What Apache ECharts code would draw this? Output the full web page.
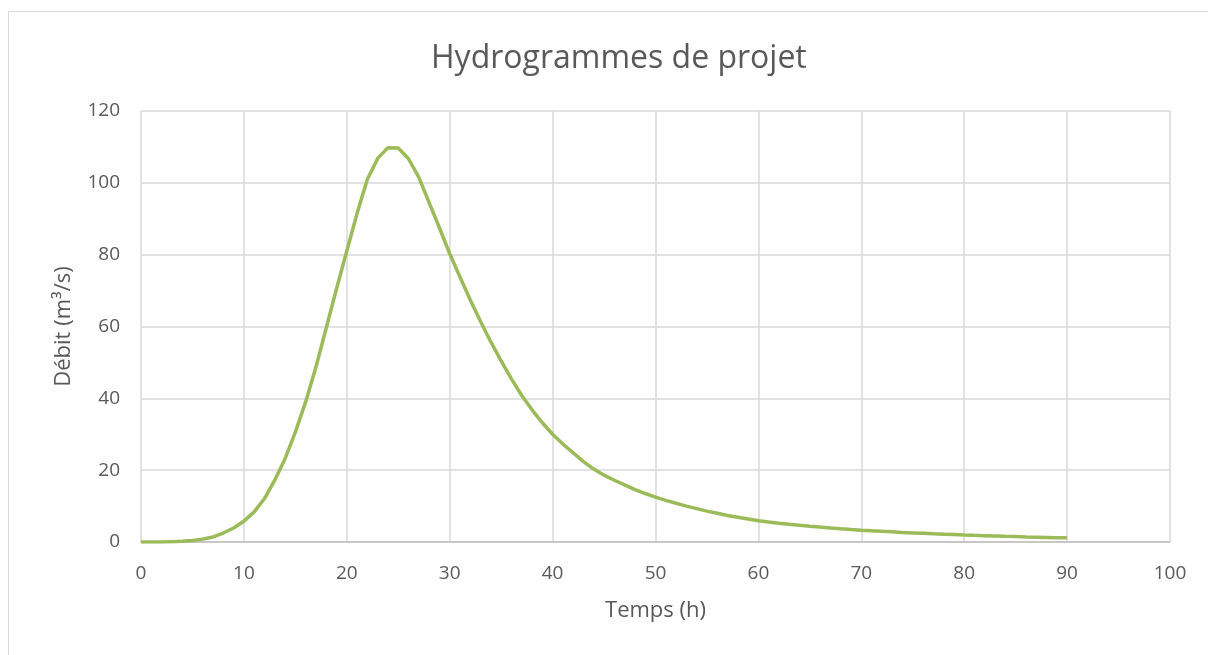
<!DOCTYPE html>
<html>
<head>
<meta charset="utf-8">
<title>Hydrogrammes de projet</title>
<script src="https://cdn.jsdelivr.net/npm/echarts@6/dist/echarts.min.js"></script>
<style>
  html, body { margin: 0; padding: 0; background: #fff; }
  #chart { width: 1208px; height: 655px; }
</style>
</head>
<body>
<div id="chart"></div>
<script>
// temps (h), un point par heure
const hours = []
for (let h = 0; h <= 90; h++) hours.push(h)

// débit (m3/s)
const debit = [
  0, 0, 0, 0.1, 0.2, 0.4, 0.8, 1.4, 2.5, 3.9,
  5.8, 8.4, 12.1, 17.2, 23.2, 30.6, 39, 48.7, 59.6, 70.5,
  81, 91.5, 101, 106.8, 109.8, 109.7, 106.7, 101.5, 94.5, 87.5,
  80.3, 73.8, 67.4, 61.4, 55.7, 50.4, 45.4, 40.8, 36.8, 33.2,
  30, 27.3, 24.8, 22.4, 20.3, 18.6, 17.2, 15.9, 14.6, 13.5,
  12.5, 11.6, 10.8, 10, 9.3, 8.6, 8, 7.4, 6.9, 6.4,
  5.9, 5.57, 5.25, 4.96, 4.68, 4.41, 4.16, 3.93, 3.71, 3.5,
  3.3, 3.13, 2.97, 2.82, 2.67, 2.54, 2.41, 2.28, 2.17, 2.06,
  1.95, 1.85, 1.76, 1.67, 1.58, 1.5, 1.42, 1.35, 1.28, 1.21,
  1.15
]

const chart = echarts.init(document.getElementById('chart'))
const textColor = '#595959'
const font = 'Open Sans'

chart.setOption({
  animation: false,
  backgroundColor: '#fff',
  graphic: [{
    type: 'rect',
    shape: { x: 8.5, y: 11.5, width: 1300, height: 700 },
    style: { fill: 'none', stroke: '#d9d9d9', lineWidth: 1 },
    silent: true
  }],
  title: {
    text: 'Hydrogrammes de projet',
    left: 426,
    top: 38,
    textStyle: { color: textColor, fontSize: 32, fontWeight: 'normal', fontFamily: font }
  },
  grid: { left: 141, right: 38, top: 111, bottom: 113 },
  xAxis: {
    type: 'value',
    min: 0,
    max: 100,
    interval: 10,
    name: 'Temps (h)',
    nameLocation: 'middle',
    nameGap: 58,
    nameTextStyle: { color: textColor, fontSize: 22, fontFamily: font },
    axisLine: { show: true, lineStyle: { color: '#bfbfbf', width: 1.5 } },
    axisTick: { show: false },
    axisLabel: { color: textColor, fontSize: 19, fontFamily: font, margin: 22 },
    splitLine: { show: true, lineStyle: { color: '#d9d9d9', width: 1.5 } }
  },
  yAxis: {
    type: 'value',
    min: 0,
    max: 120,
    interval: 20,
    name: 'Débit (m³/s)',
    nameLocation: 'middle',
    nameGap: 66,
    nameTextStyle: { color: textColor, fontSize: 22, fontFamily: font },
    axisLine: { show: false },
    axisTick: { show: false },
    axisLabel: { color: textColor, fontSize: 19, fontFamily: font, margin: 21 },
    splitLine: { show: true, lineStyle: { color: '#d9d9d9', width: 1.5 } }
  },
  series: [{
    type: 'line',
    data: hours.map((h, i) => [h, debit[i]]),
    showSymbol: false,
    smooth: false,
    lineStyle: { color: '#9bbb59', width: 3.5 },
    itemStyle: { color: '#9bbb59' }
  }]
})
</script>
</body>
</html>
